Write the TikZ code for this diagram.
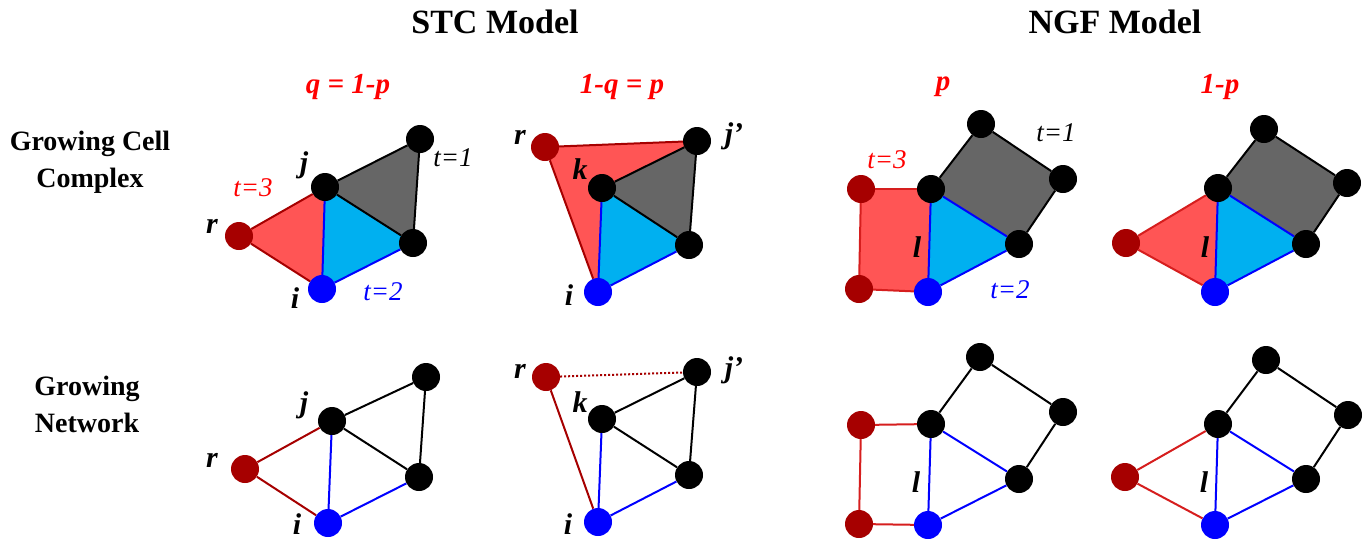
\documentclass[tikz,border=0pt]{standalone}
\usepackage{fontspec}
\setmainfont{Liberation Serif}[
  ItalicFont=Liberation Serif Italic,
  BoldFont=Liberation Serif Bold,
  BoldItalicFont=Liberation Serif Bold Italic]
\usetikzlibrary{backgrounds}

\definecolor{cellred}{RGB}{255,85,85}
\definecolor{cellblue}{RGB}{0,176,240}
\definecolor{cellgray}{RGB}{102,102,102}
\definecolor{darkred}{RGB}{166,0,0}
\definecolor{ngfred}{RGB}{214,30,30}
\definecolor{probred}{RGB}{255,0,0}
\definecolor{nodeblue}{RGB}{0,0,255}

\begin{document}
\begin{tikzpicture}[x=1pt,y=-1pt,
  vtx/.style={circle, minimum size=28pt, inner sep=0pt},
  blk/.style={vtx, fill=black},
  bluev/.style={vtx, fill=nodeblue},
  redv/.style={vtx, fill=darkred},
  lbl/.style={font=\fontsize{30}{30}\selectfont\bfseries\itshape},
  tlbl/.style={font=\fontsize{27}{27}\selectfont\itshape},
  prob/.style={font=\fontsize{29}{29}\selectfont\bfseries\itshape, text=probred},
  title/.style={font=\fontsize{34}{34}\selectfont\bfseries},
  rowlbl/.style={font=\fontsize{28}{37}\selectfont\bfseries, align=center},
  ed/.style={line width=2pt, draw=black},
  bed/.style={line width=2pt, draw=nodeblue},
  red/.style={line width=2pt, draw=darkred},
  ned/.style={line width=2pt, draw=ngfred}
]
  \useasboundingbox (0,0) rectangle (1369,539);

  % titles and row labels
  \node[title] (stc) at (495,22) {STC Model};
  \node[title] (ngf) at (1115,22) {NGF Model};
  \node[rowlbl] (cell) at (90,162) {Growing Cell\\Complex};
  \node[rowlbl] (net)  at (87,404) {Growing\\Network};

  \node[prob] (p1) at (348,87) {q = 1-p};
  \node[prob] (p2) at (622,87) {1-q = p};
  \node[prob] (p3) at (943,87) {p};
  \node[prob] (p4) at (1220,87) {1-p};

  % STC cell complex, q
  \node[blk]   (cu) at (420,139) {};
  \node[blk]   (cj) at (325,187) {};
  \node[blk]   (cw) at (413,243) {};
  \node[redv]  (cr) at (239,236) {};
  \node[bluev] (ci) at (322,289) {};
  \node[lbl] at (304,165) {j};
  \node[lbl] at (212,226) {r};
  \node[lbl] at (295,298) {i};
  \node[tlbl, text=probred]  at (253,188) {t=3};
  \node[tlbl, text=nodeblue] at (383,292) {t=2};
  \node[tlbl] at (453,158) {t=1};
  \begin{scope}[on background layer]
    \fill[cellred]  (cr.center) -- (cj.center) -- (ci.center) -- cycle;
    \fill[cellblue] (cj.center) -- (cw.center) -- (ci.center) -- cycle;
    \fill[cellgray] (cj.center) -- (cu.center) -- (cw.center) -- cycle;
    \draw[red] (cr) -- (cj);
    \draw[red] (cr) -- (ci);
    \draw[bed] (cj) -- (ci);
    \draw[bed] (ci) -- (cw);
    \draw[ed] (cj) -- (cw);
    \draw[ed] (cj) -- (cu);
    \draw[ed] (cu) -- (cw);
  \end{scope}

  % STC cell complex, 1-q
  \node[redv]  (dr) at (545,147) {};
  \node[blk]   (dj) at (697,141) {};
  \node[blk]   (dk) at (602,188) {};
  \node[blk]   (dw) at (689,245) {};
  \node[bluev] (di) at (598,292) {};
  \node[lbl] at (520,137) {r};
  \node[lbl] at (734,136) {j'};
  \node[lbl] at (580,169) {k};
  \node[lbl] at (569,295) {i};
  \begin{scope}[on background layer]
    \fill[cellred]  (dr.center) -- (dj.center) -- (di.center) -- cycle;
    \fill[cellgray] (dk.center) -- (dj.center) -- (dw.center) -- cycle;
    \fill[cellblue] (dk.center) -- (dw.center) -- (di.center) -- cycle;
    \draw[red] (dr) -- (dj);
    \draw[red] (dr) -- (di);
    \draw[ed] (dk) -- (dj);
    \draw[ed] (dj) -- (dw);
    \draw[ed] (dk) -- (dw);
    \draw[bed] (dk) -- (di);
    \draw[bed] (di) -- (dw);
  \end{scope}

  % NGF cell complex, p
  \node[blk]   (eu) at (981,124) {};
  \node[blk]   (ev) at (1063,179) {};
  \node[blk]   (el) at (931,189) {};
  \node[blk]   (ew) at (1019,244) {};
  \node[bluev] (ei) at (928,292) {};
  \node[redv]  (ea) at (861,189) {};
  \node[redv]  (eb) at (859,289) {};
  \node[lbl] at (917,247) {l};
  \node[tlbl] at (1056,133) {t=1};
  \node[tlbl, text=probred]  at (887,160) {t=3};
  \node[tlbl, text=nodeblue] at (1010,290) {t=2};
  \begin{scope}[on background layer]
    \fill[cellred]  (ea.center) -- (el.center) -- (ei.center) -- (eb.center) -- cycle;
    \fill[cellgray] (el.center) -- (eu.center) -- (ev.center) -- (ew.center) -- cycle;
    \fill[cellblue] (el.center) -- (ew.center) -- (ei.center) -- cycle;
    \draw[ned] (ea) -- (el);
    \draw[ned] (ea) -- (eb);
    \draw[ned] (eb) -- (ei);
    \draw[bed] (el) -- (ei);
    \draw[bed] (el) -- (ew);
    \draw[bed] (ew) -- (ei);
    \draw[ed] (el) -- (eu);
    \draw[ed] (eu) -- (ev);
    \draw[ed] (ev) -- (ew);
  \end{scope}

  % NGF cell complex, 1-p
  \node[blk]   (fu) at (1264,129) {};
  \node[blk]   (fv) at (1347,183) {};
  \node[blk]   (fl) at (1218,188) {};
  \node[blk]   (fw) at (1306,244) {};
  \node[bluev] (fi) at (1215,292) {};
  \node[redv]  (fa) at (1126,243) {};
  \node[lbl] at (1205,247) {l};
  \begin{scope}[on background layer]
    \fill[cellred]  (fa.center) -- (fl.center) -- (fi.center) -- cycle;
    \fill[cellgray] (fl.center) -- (fu.center) -- (fv.center) -- (fw.center) -- cycle;
    \fill[cellblue] (fl.center) -- (fw.center) -- (fi.center) -- cycle;
    \draw[ned] (fa) -- (fl);
    \draw[ned] (fa) -- (fi);
    \draw[bed] (fl) -- (fi);
    \draw[bed] (fl) -- (fw);
    \draw[bed] (fw) -- (fi);
    \draw[ed] (fl) -- (fu);
    \draw[ed] (fu) -- (fv);
    \draw[ed] (fv) -- (fw);
  \end{scope}

  % STC network, q
  \node[blk]   (gu) at (426,377) {};
  \node[blk]   (gj) at (332,421) {};
  \node[blk]   (gw) at (419,477) {};
  \node[redv]  (gr) at (245,469) {};
  \node[bluev] (gi) at (328,523) {};
  \node[lbl] at (304,405) {j};
  \node[lbl] at (212,460) {r};
  \node[lbl] at (297,524) {i};
  \draw[red] (gr) -- (gj);
  \draw[red] (gr) -- (gi);
  \draw[bed] (gj) -- (gi);
  \draw[bed] (gi) -- (gw);
  \draw[ed] (gj) -- (gw);
  \draw[ed] (gj) -- (gu);
  \draw[ed] (gu) -- (gw);

  % STC network, 1-q
  \node[redv]  (hr) at (546,377) {};
  \node[blk]   (hj) at (697,372) {};
  \node[blk]   (hk) at (602,419) {};
  \node[blk]   (hw) at (689,475) {};
  \node[bluev] (hi) at (598,522) {};
  \node[lbl] at (520,371) {r};
  \node[lbl] at (734,370) {j'};
  \node[lbl] at (580,402) {k};
  \node[lbl] at (568,524) {i};
  \draw[red, dotted] (hr) -- (hj);
  \draw[red] (hr) -- (hi);
  \draw[ed] (hk) -- (hj);
  \draw[ed] (hk) -- (hw);
  \draw[ed] (hj) -- (hw);
  \draw[bed] (hk) -- (hi);
  \draw[bed] (hi) -- (hw);

  % NGF network, p
  \node[blk]   (mu) at (980,357) {};
  \node[blk]   (mv) at (1063,412) {};
  \node[blk]   (ml) at (931,424) {};
  \node[blk]   (mw) at (1019,479) {};
  \node[bluev] (mi) at (928,525) {};
  \node[redv]  (ma) at (861,425) {};
  \node[redv]  (mb) at (859,524) {};
  \node[lbl] at (916,482) {l};
  \draw[ned] (ma) -- (ml);
  \draw[ned] (ma) -- (mb);
  \draw[ned] (mb) -- (mi);
  \draw[bed] (ml) -- (mi);
  \draw[bed] (ml) -- (mw);
  \draw[bed] (mw) -- (mi);
  \draw[ed] (ml) -- (mu);
  \draw[ed] (mu) -- (mv);
  \draw[ed] (mv) -- (mw);

  % NGF network, 1-p
  \node[blk]   (nu) at (1266,360) {};
  \node[blk]   (nv) at (1348,415) {};
  \node[blk]   (nl) at (1218,424) {};
  \node[blk]   (nw) at (1306,479) {};
  \node[bluev] (ni) at (1215,525) {};
  \node[redv]  (na) at (1125,477) {};
  \node[lbl] at (1204,482) {l};
  \draw[ned] (na) -- (nl);
  \draw[ned] (na) -- (ni);
  \draw[bed] (nl) -- (ni);
  \draw[bed] (nl) -- (nw);
  \draw[bed] (nw) -- (ni);
  \draw[ed] (nl) -- (nu);
  \draw[ed] (nu) -- (nv);
  \draw[ed] (nv) -- (nw);
\end{tikzpicture}
\end{document}
